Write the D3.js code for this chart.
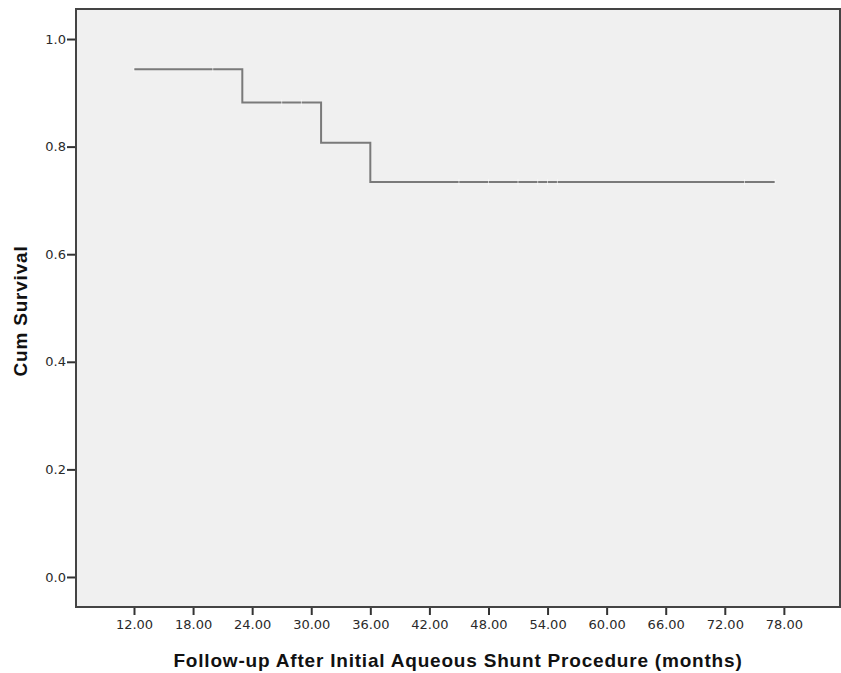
<!DOCTYPE html>
<html>
<head>
<meta charset="utf-8">
<script src="https://cdn.jsdelivr.net/npm/d3@7"></script>
<style>
  body { margin: 0; background: #fff; }
  text { font-family: "DejaVu Sans", Arial, sans-serif; }
</style>
</head>
<body>
<svg width="841" height="673"></svg>
<script>
var svg = d3.select("svg"),
    width = +svg.attr("width"),
    height = +svg.attr("height");

// step curve: time where each level starts, and the survival level
var stepTimes = [12.0, 23.0, 31.0, 36.0];
var stepSurv = [0.944, 0.882, 0.807, 0.734];
var endTime = 77.1;

// censored cases (months)
var censorTimes = [12.0, 20.0, 27.0, 29.0, 45.0, 48.0, 51.0, 53.0, 54.0, 55.0, 74.0, 77.1];

var xTicks = [12, 18, 24, 30, 36, 42, 48, 54, 60, 66, 72, 78];
var yTicks = [0.0, 0.2, 0.4, 0.6, 0.8, 1.0];

var plotL = 76, plotT = 9, plotR = 840, plotB = 607;

var x = d3.scaleLinear().domain([6.11, 83.7]).range([plotL, plotR]);
var y = d3.scaleLinear().domain([-0.0558, 1.0558]).range([plotB, plotT]);

// plot background
svg.append("rect")
    .attr("x", plotL).attr("y", plotT)
    .attr("width", plotR - plotL).attr("height", plotB - plotT)
    .attr("fill", "#f0f0f0");

// build the step points
var pts = [];
stepTimes.forEach(function (t, i) {
    if (i > 0) pts.push([t, stepSurv[i - 1]]);
    pts.push([t, stepSurv[i]]);
});
pts.push([endTime, stepSurv[stepSurv.length - 1]]);

var line = d3.line()
    .x(function (d) { return x(d[0]); })
    .y(function (d) { return y(d[1]); });

svg.append("path")
    .datum(pts)
    .attr("d", line)
    .attr("fill", "none")
    .attr("stroke", "#7a7a7a")
    .attr("stroke-width", 2);

function survAt(t) {
    var s = stepSurv[0];
    stepTimes.forEach(function (st, i) { if (t >= st) s = stepSurv[i]; });
    return s;
}

// censor marks (faint white ticks)
svg.append("g")
    .selectAll("line")
    .data(censorTimes)
    .enter().append("line")
    .attr("x1", function (d) { return x(d); })
    .attr("x2", function (d) { return x(d); })
    .attr("y1", function (d) { return y(survAt(d)) - 3; })
    .attr("y2", function (d) { return y(survAt(d)) + 3; })
    .attr("stroke", "#ffffff")
    .attr("stroke-width", 1)
    .attr("opacity", 0.6);

// axes
var xAxis = svg.append("g")
    .attr("transform", "translate(0," + plotB + ")")
    .call(d3.axisBottom(x).tickValues(xTicks).tickSize(8).tickSizeOuter(0)
        .tickFormat(d3.format(".2f")));

var yAxis = svg.append("g")
    .attr("transform", "translate(" + plotL + ",0)")
    .call(d3.axisLeft(y).tickValues(yTicks).tickSize(9).tickSizeOuter(0)
        .tickFormat(d3.format(".1f")));

[xAxis, yAxis].forEach(function (a) {
    a.select(".domain").remove();
    a.selectAll(".tick line").attr("stroke", "#333").attr("stroke-width", 2);
    a.selectAll(".tick text")
        .attr("fill", "#2a2a2a")
        .style("font-size", "13px")
        .style("font-family", "'DejaVu Sans', Arial, sans-serif");
});
xAxis.selectAll(".tick text").attr("y", 13).attr("dy", "0.71em");
yAxis.selectAll(".tick text").attr("x", -10);

// frame
svg.append("rect")
    .attr("x", plotL).attr("y", plotT)
    .attr("width", plotR - plotL).attr("height", plotB - plotT)
    .attr("fill", "none")
    .attr("stroke", "#444")
    .attr("stroke-width", 2);

// axis titles
svg.append("text")
    .attr("x", 458)
    .attr("y", 667)
    .attr("text-anchor", "middle")
    .attr("font-weight", "bold")
    .attr("font-size", "19px")
    .attr("letter-spacing", "0.8px")
    .attr("fill", "#111")
    .style("font-family", "'Liberation Sans', Arial, sans-serif")
    .text("Follow-up After Initial Aqueous Shunt Procedure (months)");

svg.append("text")
    .attr("transform", "translate(27,311) rotate(-90)")
    .attr("text-anchor", "middle")
    .attr("font-weight", "bold")
    .attr("font-size", "19px")
    .attr("letter-spacing", "0.8px")
    .attr("fill", "#111")
    .style("font-family", "'Liberation Sans', Arial, sans-serif")
    .text("Cum Survival");
</script>
</body>
</html>
